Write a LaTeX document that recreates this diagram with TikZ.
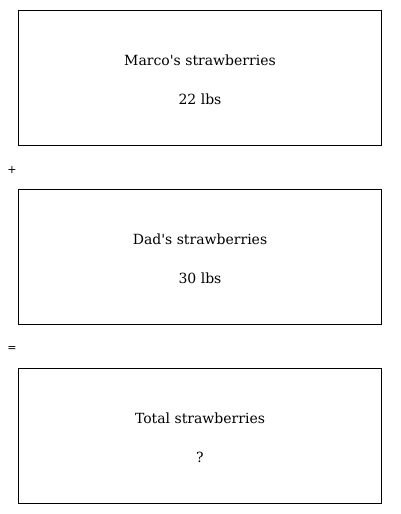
\documentclass[tikz,border=0pt]{standalone}
\usepackage{fontspec}
\setmainfont{DejaVu Serif}
\newfontfamily\opfont{DejaVu Sans}
\begin{document}
\begin{tikzpicture}[x=1pt,y=-1pt,
  boxstyle/.style={draw=black, line width=0.8pt},
  lbl/.style={font=\fontsize{14}{17}\selectfont, inner sep=0pt},
  opstyle/.style={font=\opfont\fontsize{11}{13}\selectfont, inner sep=0pt}]
\useasboundingbox (0,0) rectangle (400,514);
\node[boxstyle, minimum width=363pt, minimum height=135pt, anchor=north west] (b1) at (18,10) {};
\node[boxstyle, minimum width=363pt, minimum height=135pt, anchor=north west] (b2) at (18,189) {};
\node[boxstyle, minimum width=363pt, minimum height=135pt, anchor=north west] (b3) at (18,368) {};
\node[lbl] (t1) at (200,60) {Marco\textquotesingle s strawberries};
\node[lbl] (v1) at (200,99) {22 lbs};
\node[lbl] (t2) at (200,239) {Dad\textquotesingle s strawberries};
\node[lbl] (v2) at (200,278) {30 lbs};
\node[lbl] (t3) at (200,418) {Total strawberries};
\node[lbl] (v3) at (200,457) {?};
\node[opstyle] (plus) at (12,170) {+};
\node[opstyle] (eq) at (12,349) {=};
\end{tikzpicture}
\end{document}
